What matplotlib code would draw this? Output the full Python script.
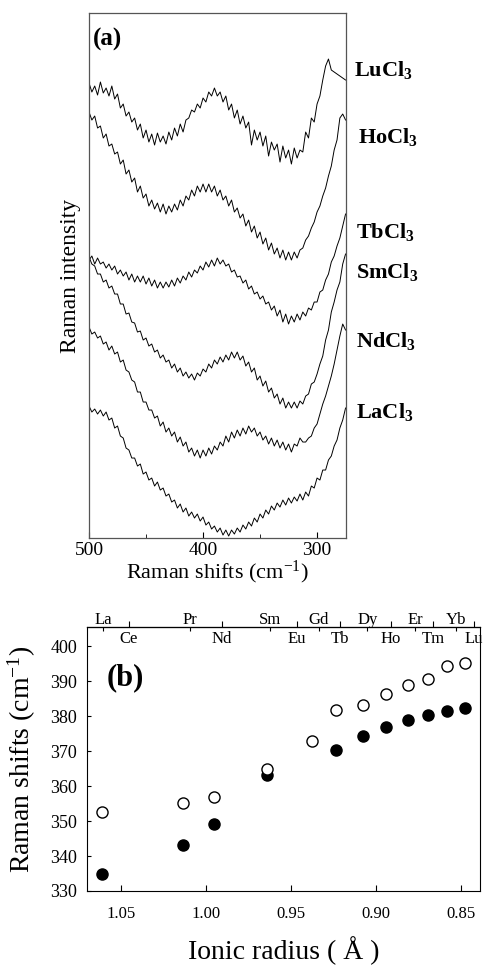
import numpy as np
import matplotlib
matplotlib.use('Agg')
import matplotlib.pyplot as plt
import matplotlib.transforms as mtransforms
from matplotlib.ticker import FormatStrFormatter

plt.rcParams['font.family'] = ['Liberation Serif', 'DejaVu Serif']
plt.rcParams['mathtext.fontset'] = 'custom'
plt.rcParams['mathtext.rm'] = 'Liberation Serif'
plt.rcParams['mathtext.bf'] = 'Liberation Serif:bold'
plt.rcParams['mathtext.default'] = 'regular'

# ---- panel (a): Raman spectra, every 2.5 cm-1 (500 -> 275)
raman_shift = np.arange(500, 272.5, -2.5)

lucl3 = [457, 448, 454, 445, 458, 447, 452, 444, 454, 441,
         446, 432, 436, 424, 428, 418, 422, 410, 416, 402,
         410, 398, 406, 395, 407, 398, 404, 396, 408, 400,
         412, 404, 416, 408, 420, 422, 430, 428, 436, 432,
         442, 438, 448, 444, 452, 444, 448, 438, 444, 430,
         436, 422, 430, 416, 424, 412, 418, 395, 410, 400,
         408, 394, 404, 384, 398, 390, 396, 378, 394, 382,
         390, 376, 392, 382, 390, 388, 408, 402, 422, 418,
         436, 444, 460, 474, 481, 470, 468, 466, 464, 462, 460]
hocl3 = [428, 420, 424, 412, 414, 402, 406, 394, 396, 386,
         388, 376, 380, 366, 370, 358, 362, 348, 354, 342,
         346, 334, 340, 331, 337, 328, 336, 326, 334, 328,
         336, 330, 340, 334, 344, 340, 350, 344, 354, 348,
         356, 348, 356, 348, 354, 344, 350, 340, 344, 334,
         340, 328, 332, 322, 326, 314, 320, 308, 314, 302,
         308, 296, 302, 290, 297, 286, 292, 282, 290, 280,
         288, 280, 288, 282, 290, 292, 300, 304, 312, 318,
         328, 334, 344, 352, 364, 374, 390, 400, 422, 426, 420]
tbcl3 = [280, 284, 276, 282, 276, 278, 272, 276, 270, 274,
         266, 270, 264, 268, 260, 266, 258, 264, 258, 264,
         256, 262, 254, 260, 252, 258, 252, 258, 253, 260,
         254, 262, 257, 264, 260, 268, 263, 270, 267, 274,
         270, 278, 273, 280, 274, 282, 276, 280, 274, 276,
         268, 270, 263, 264, 257, 260, 251, 254, 246, 248,
         241, 244, 236, 238, 230, 234, 224, 230, 218, 226,
         216, 224, 218, 226, 220, 228, 224, 232, 230, 238,
         238, 248, 250, 260, 266, 278, 284, 294, 302, 314, 326]
smcl3 = [283, 276, 274, 266, 266, 258, 260, 252, 254, 246,
         246, 236, 236, 226, 227, 218, 217, 208, 209, 200,
         202, 194, 196, 188, 190, 182, 185, 178, 180, 172,
         176, 168, 172, 164, 168, 162, 166, 160, 167, 164,
         171, 168, 176, 172, 180, 176, 183, 178, 185, 180,
         188, 182, 188, 180, 184, 174, 178, 168, 172, 160,
         164, 154, 159, 148, 152, 142, 146, 136, 142, 132,
         138, 132, 138, 132, 139, 136, 144, 146, 156, 158,
         166, 176, 184, 200, 210, 228, 238, 250, 258, 276, 286]
ndcl3 = [213, 206, 208, 202, 204, 196, 198, 190, 194, 186,
         188, 178, 180, 170, 168, 160, 158, 148, 148, 138,
         138, 130, 130, 122, 124, 114, 118, 108, 112, 104,
         108, 98, 103, 94, 98, 88, 92, 84, 90, 82,
         90, 84, 92, 86, 94, 90, 98, 94, 104, 98,
         108, 102, 110, 104, 112, 106, 114, 108, 112, 104,
         108, 100, 104, 96, 102, 94, 100, 92, 98, 90,
         96, 88, 96, 94, 102, 98, 98, 102, 104, 112,
         116, 126, 136, 144, 154, 164, 176, 190, 204, 216, 210]
lacl3 = [134, 128, 131, 126, 130, 124, 128, 120, 122, 112,
         114, 104, 102, 92, 90, 82, 82, 74, 76, 66,
         68, 60, 62, 54, 58, 50, 52, 44, 46, 38,
         40, 32, 36, 28, 32, 24, 28, 22, 26, 19,
         23, 15, 18, 11, 14, 8, 12, 5, 10, 4,
         10, 6, 12, 8, 15, 11, 18, 14, 22, 18,
         26, 22, 30, 26, 34, 30, 37, 33, 40, 35,
         42, 37, 43, 39, 46, 40, 48, 44, 54, 52,
         62, 60, 70, 70, 80, 84, 94, 100, 112, 120, 132]

spectra = [lucl3, hocl3, tbcl3, smcl3, ndcl3, lacl3]
spectra_labels = ['LuCl$_{\\mathbf{3}}$', 'HoCl$_{\\mathbf{3}}$', 'TbCl$_{\\mathbf{3}}$',
                  'SmCl$_{\\mathbf{3}}$', 'NdCl$_{\\mathbf{3}}$', 'LaCl$_{\\mathbf{3}}$']
label_y = [470, 403, 308, 268, 199, 128]
label_x = [1.031, 1.047, 1.039, 1.039, 1.039, 1.039]

# ---- panel (b): band position vs ionic radius
radius_open = [1.061, 1.0135, 0.9953, 0.964, 0.938, 0.9236, 0.908, 0.8943, 0.8812, 0.8693, 0.8582, 0.848]
shift_open = [352.5, 355.1, 357.0, 364.8, 372.9, 381.7, 383.3, 386.2, 388.8, 390.6, 394.3, 395.3]
radius_filled = [1.061, 1.0135, 0.9953, 0.964, 0.9236, 0.908, 0.8943, 0.8812, 0.8693, 0.8582, 0.848]
shift_filled = [335.0, 343.1, 349.1, 363.1, 370.3, 374.3, 376.9, 378.9, 380.3, 381.4, 382.2]

top_elements = ['La', 'Ce', 'Pr', 'Nd', 'Sm', 'Eu', 'Gd', 'Tb', 'Dy', 'Ho', 'Er', 'Tm', 'Yb', 'Lu']
top_radius = [1.0606, 1.0453, 1.0096, 0.9908, 0.9627, 0.9468, 0.9339, 0.9211,
              0.9052, 0.8912, 0.8771, 0.8666, 0.8531, 0.8425]

fig = plt.figure(figsize=(4.83, 9.71), dpi=100)

# (a)
ax_a = fig.add_axes([0.1843, 0.4459, 0.5321, 0.5407])
for vals in spectra:
    ax_a.plot(raman_shift, vals, color='k', lw=0.7)
ax_a.set_xlim(500, 274.6)
ax_a.set_ylim(2, 527)
ax_a.set_yticks([])
ax_a.set_xticks([500, 400, 300])
ax_a.set_xticks([450, 350], minor=True)
ax_a.tick_params(axis='x', which='major', direction='in', length=4, labelsize=14, pad=3)
ax_a.tick_params(axis='x', which='minor', direction='in', length=3)
for sp in ax_a.spines.values():
    sp.set_color('#555555')
    sp.set_linewidth(0.9)
ax_a.set_xlabel('Raman shifts (cm$^{-1}$)', fontsize=16, labelpad=0)
ax_a.set_ylabel('Raman intensity', fontsize=17, labelpad=6)
ax_a.text(0.016, 0.971, '(a)', transform=ax_a.transAxes, fontsize=18,
          fontweight='bold', va='top')
trans = mtransforms.blended_transform_factory(ax_a.transAxes, ax_a.transData)
for lab, lx, ly in zip(spectra_labels, label_x, label_y):
    ax_a.text(lx, ly, lab, transform=trans, fontsize=16, fontweight='bold',
              va='center', clip_on=False)

# (b)
ax_b = fig.add_axes([0.1801, 0.0824, 0.8137, 0.2719])
ax_b.plot(radius_filled, shift_filled, 'o', ms=8, mfc='k', mec='k', zorder=3)
ax_b.plot(radius_open, shift_open, 'o', ms=8, mfc='white', mec='k', mew=1, zorder=4)
ax_b.set_xlim(1.07, 0.839)
ax_b.set_ylim(330, 405.5)
ax_b.set_yticks(np.arange(330, 401, 10))
ax_b.set_xticks([1.05, 1.00, 0.95, 0.90, 0.85])
ax_b.xaxis.set_major_formatter(FormatStrFormatter('%.2f'))
ax_b.tick_params(axis='x', direction='in', length=4, labelsize=12, pad=11)
ax_b.tick_params(axis='y', direction='in', length=3, labelsize=13, pad=7)
ax_b.set_ylabel('Raman shifts (cm$^{-1}$)', fontsize=20, labelpad=9)
ax_b.set_xlabel('Ionic radius ( Å )', fontsize=20, labelpad=10)
ax_b.text(0.051, 0.864, '(b)', transform=ax_b.transAxes, fontsize=22,
          fontweight='bold', va='top')

# element scale on top: alternate labels above / below the top spine
upper = list(range(0, len(top_elements), 2))
lower = list(range(1, len(top_elements), 2))
sec_up = ax_b.secondary_xaxis('top')
sec_up.set_xticks([top_radius[i] for i in upper], labels=[top_elements[i] for i in upper])
sec_up.tick_params(direction='in', length=3, labelsize=12, pad=-1)
sec_lo = ax_b.secondary_xaxis('top')
sec_lo.set_xticks([top_radius[i] for i in lower], labels=[''] * len(lower))
sec_lo.tick_params(direction='out', length=4)
trans_b = mtransforms.blended_transform_factory(ax_b.transData, ax_b.transAxes)
for i in lower:
    ax_b.text(top_radius[i], 0.985, top_elements[i], transform=trans_b,
              fontsize=12, ha='center', va='top', clip_on=False)

fig.savefig('out.png', dpi=100)
